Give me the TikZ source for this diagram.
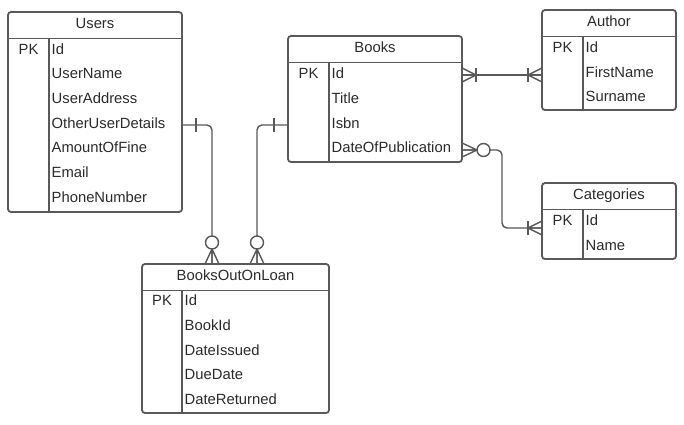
\documentclass[tikz,border=0pt]{standalone}
\usepackage{fontspec}
\setmainfont{Liberation Sans}
\usetikzlibrary{calc}
\definecolor{lncol}{HTML}{595959}
\definecolor{txcol}{HTML}{2B2B2B}
\tikzset{
  ent/.style={draw=lncol, line width=1.8pt, rounded corners=3pt, inner sep=0pt, outer sep=0pt, anchor=north west, fill=white},
  ln/.style={draw=lncol, line width=1.8pt},
  conn/.style={draw=lncol, line width=1.4pt},
  txt/.style={text=txcol, font=\fontsize{14.8}{17}\selectfont, inner sep=0pt, text height=10.5pt, text depth=0pt},
  fld/.style={txt, anchor=west},
  pk/.style={txt, anchor=center},
  ttl/.style={txt, anchor=center},
  pics/one/.style={code={
    \draw[conn] (14,-7) -- (14,7);
  }},
  pics/onemany/.style={code={
    \draw[conn] (0,-7) -- (14,0) -- (0,7) (0,0) -- (14,0);
    \draw[conn] (14,-7) -- (14,7);
  }},
  pics/zeromany/.style={code={
    \draw[conn] (0,-7) -- (15,0) -- (0,7) (0,0) -- (15,0);
    \draw[conn, fill=white] (21.5,0) circle[radius=6.5pt];
  }}
}
\newcommand\ertab[7]{%
  \node[ent, minimum width=#4pt, minimum height=#5pt] (#1) at (#2,#3) {};
  \draw[ln] ($(#1.north west)+(0,26.5)$) -- ($(#1.north east)+(0,26.5)$);
  \draw[ln] ($(#1.north west)+(#6,26.5)$) -- ($(#1.south west)+(#6,0)$);
  \node[ttl] (#1-t) at ($(#1.north)+(0,11.5)$) {#7};
}
\begin{document}
\begin{tikzpicture}[x=1pt,y=-1pt]
\useasboundingbox[fill=white] (0,0) rectangle (684,424);

% Users
\ertab{users}{8}{12}{174}{200}{41}{Users}
\node[pk] (users-pk) at (28.5,49) {PK};
\node[fld] (users-f1) at (51.5,49) {Id};
\node[fld] (users-f2) at (51.5,73.5) {UserName};
\node[fld] (users-f3) at (51.5,98) {UserAddress};
\node[fld] (users-f4) at (51.5,123) {OtherUserDetails};
\node[fld] (users-f5) at (51.5,147.5) {AmountOfFine};
\node[fld] (users-f6) at (51.5,172) {Email};
\node[fld] (users-f7) at (51.5,197) {PhoneNumber};

% Books
\ertab{books}{288}{36}{174}{126}{41}{Books}
\node[pk] (books-pk) at (308.5,73) {PK};
\node[fld] (books-f1) at (331.5,73) {Id};
\node[fld] (books-f2) at (331.5,98) {Title};
\node[fld] (books-f3) at (331.5,123) {Isbn};
\node[fld] (books-f4) at (331.5,147.5) {DateOfPublication};

% Author
\ertab{author}{542}{10}{134}{100}{41}{Author}
\node[pk] (author-pk) at (562.5,47) {PK};
\node[fld] (author-f1) at (585.5,47) {Id};
\node[fld] (author-f2) at (585.5,72) {FirstName};
\node[fld] (author-f3) at (585.5,96.5) {Surname};

% Categories
\ertab{cat}{542}{183}{134}{76}{41}{Categories}
\node[pk] (cat-pk) at (562.5,220.5) {PK};
\node[fld] (cat-f1) at (585.5,220.5) {Id};
\node[fld] (cat-f2) at (585.5,245) {Name};

% BooksOutOnLoan
\ertab{loan}{142}{264}{187}{149}{40}{BooksOutOnLoan}
\node[pk] (loan-pk) at (162,300) {PK};
\node[fld] (loan-f1) at (184.5,300) {Id};
\node[fld] (loan-f2) at (184.5,325) {BookId};
\node[fld] (loan-f3) at (184.5,350) {DateIssued};
\node[fld] (loan-f4) at (184.5,374.5) {DueDate};
\node[fld] (loan-f5) at (184.5,399) {DateReturned};

% connector end points
\coordinate (u-out) at ($(users.north east)+(0,113)$);
\coordinate (l-in1) at ($(loan.north west)+(70,0)$);
\coordinate (l-in2) at ($(loan.north west)+(115,0)$);
\coordinate (b-in) at ($(books.north west)+(0,89)$);
\coordinate (b-out1) at ($(books.north east)+(0,39)$);
\coordinate (a-in) at (author.west |- b-out1);
\coordinate (b-out2) at ($(books.north east)+(0,114)$);
\coordinate (c-in) at ($(cat.north west)+(0,45)$);

% connectors
\draw[conn, rounded corners=5pt] (u-out) -| (l-in1);
\draw[conn, rounded corners=5pt] (b-in) -| (l-in2);
\draw[conn] (b-out1) -- (a-in);
\draw[conn, rounded corners=5pt] (b-out2) -- ++(40,0) |- (c-in);

% cardinality marks
\pic at (u-out) {one};
\pic[rotate=90] at (l-in1) {zeromany};
\pic[rotate=90] at (l-in2) {zeromany};
\pic[rotate=180] at (b-in) {one};
\pic at (b-out1) {onemany};
\pic[rotate=180] at (a-in) {onemany};
\pic at (b-out2) {zeromany};
\pic[rotate=180] at (c-in) {onemany};
\end{tikzpicture}
\end{document}
